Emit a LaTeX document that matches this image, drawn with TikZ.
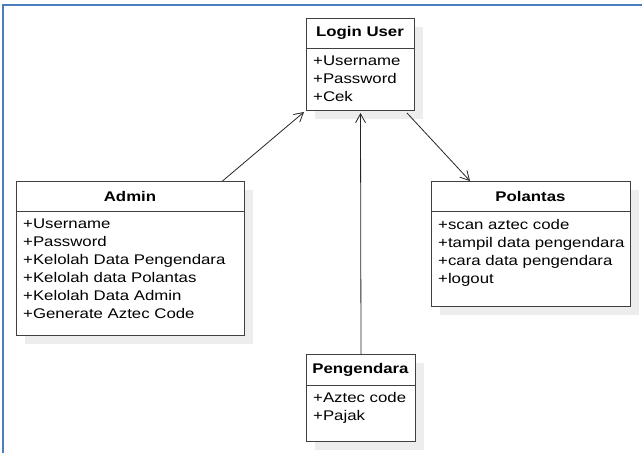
\documentclass[tikz,border=0pt]{standalone}
\usepackage{fontspec}
\setmainfont{Liberation Sans}
\newfontfamily\umlfont[FakeStretch=1.2]{Liberation Sans}
\usetikzlibrary{arrows.meta,shadows}
\definecolor{frameblue}{HTML}{4A7EBB}
\tikzset{
  umlbox/.style={draw=black!75, line width=1pt, fill=white, anchor=north west, inner sep=0pt,
    general shadow={fill=black!7, shadow xshift=8pt, shadow yshift=-8pt}},
  umlhead/.style={font=\umlfont\fontsize{14}{18}\selectfont\bfseries, inner sep=0pt},
  umlattr/.style={font=\umlfont\fontsize{14}{18}\selectfont, align=left, anchor=north west, inner sep=0pt},
  assoc/.style={draw=black!85, line width=0.8pt, -{Straight Barb[length=9pt,width=10pt]}}
}
\begin{document}
\begin{tikzpicture}[x=1pt, y=-1pt]
\useasboundingbox (0,0) rectangle (642,453);
\draw[frameblue, line width=2pt] (3,453) -- (3,5) -- (642,5);
% classes
\node[umlbox, minimum width=108pt, minimum height=92pt] (login) at (306,18) {};
\node[umlbox, minimum width=228pt, minimum height=154pt] (admin) at (16,181) {};
\node[umlbox, minimum width=199pt, minimum height=125pt] (polantas) at (431,181) {};
\node[umlbox, minimum width=109pt, minimum height=87pt] (pengendara) at (306,354) {};
\draw[black!75, line width=1pt] (login.west |- 0,48) -- (login.east |- 0,48);
\draw[black!75, line width=1pt] (admin.west |- 0,211) -- (admin.east |- 0,211);
\draw[black!75, line width=1pt] (polantas.west |- 0,211) -- (polantas.east |- 0,211);
\draw[black!75, line width=1pt] (pengendara.west |- 0,385) -- (pengendara.east |- 0,385);
% names
\node[umlhead] (loginname) at (360,33) {Login User};
\node[umlhead] (adminname) at (130,196) {Admin};
\node[umlhead] (polantasname) at (530.5,196) {Polantas};
\node[umlhead] (pengendaraname) at (360.5,369.5) {Pengendara};
% attributes
\node[umlattr] (loginattr) at (313,56) {+Username\\+Password\\+Cek};
\node[umlattr] (adminattr) at (23,219) {+Username\\+Password\\+Kelolah Data Pengendara\\+Kelolah data Polantas\\+Kelolah Data Admin\\+Generate Aztec Code};
\node[umlattr] (polantasattr) at (438,219) {+scan aztec code\\+tampil data pengendara\\+cara data pengendara\\+logout};
\node[umlattr] (pengendaraattr) at (313,392) {+Aztec code\\+Pajak};
% associations
\draw[assoc] ([xshift=92pt]admin.north) -- ([xshift=-2pt,yshift=-1pt]login.south west);
\draw[assoc] (pengendara.north) -- ([yshift=-2pt]login.south);
\draw[assoc] ([xshift=-8pt,yshift=-2pt]login.south east) -- ([xshift=39pt]polantas.north west);
\end{tikzpicture}
\end{document}
